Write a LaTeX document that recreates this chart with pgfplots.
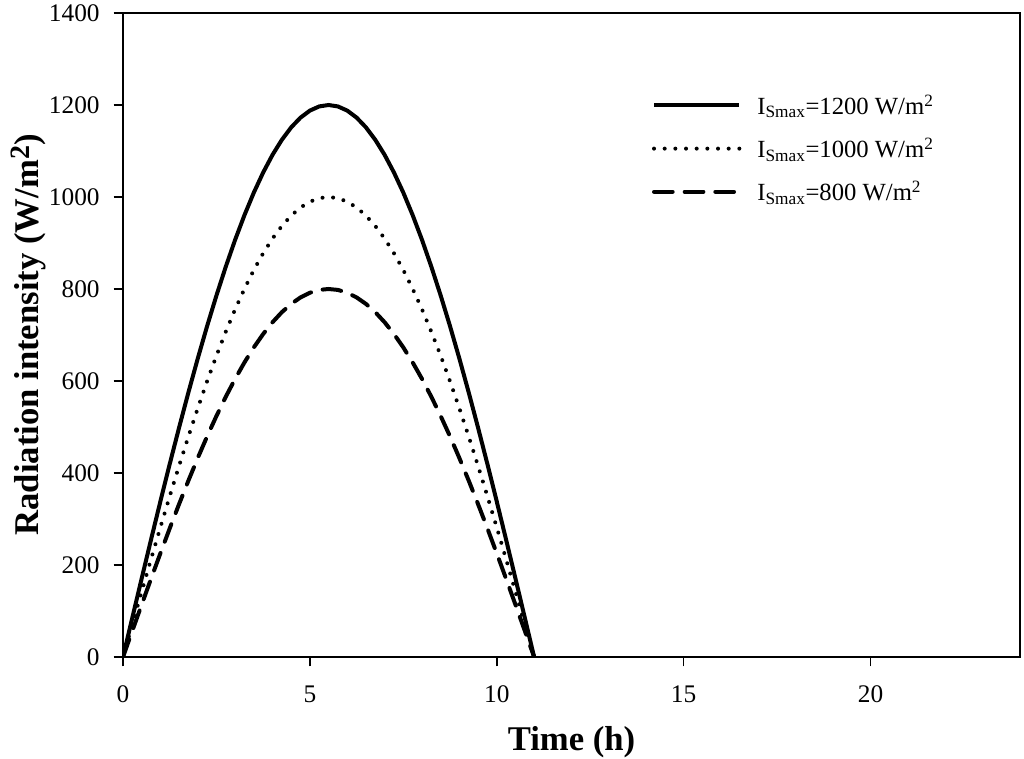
\documentclass[border=0pt]{standalone}
\usepackage{fontspec}
\setmainfont{Liberation Serif}
\usepackage{pgfplots}
\pgfplotsset{compat=1.18}
\begin{document}
\begin{tikzpicture}
\begin{axis}[
  at={(0,0)}, anchor=south west,
  scale only axis, width=672.75pt, height=483pt,
  xmin=0, xmax=24, ymin=0, ymax=1400,
  xtick={0,5,10,15,20}, ytick={0,200,...,1400},
  tick align=outside, tick pos=left, major tick length=7pt,
  axis line style={line width=1.2pt}, every tick/.style={line width=1.2pt, black},
  tick label style={font=\fontsize{19}{22}\selectfont},
  xticklabel style={yshift=-11pt},
  yticklabel style={xshift=-7pt},
  /pgf/number format/assume math mode=true,
  /pgf/number format/1000 sep={},
  xlabel={\textbf{Time (h)}},
  ylabel={\textbf{Radiation intensity (W/m\raisebox{0.62ex}{\fontsize{21}{21}\selectfont 2})}},
  label style={font=\fontsize{26}{30}\selectfont},
  xlabel style={yshift=-11pt},
  ylabel style={yshift=-5pt},
  legend style={draw=none, fill=none, at={(0.585,0.882)}, anchor=north west,
    font=\fontsize{18.5}{22}\selectfont, row sep=12pt},
  legend cell align=left,
  legend image code/.code={\draw[#1] (0pt,0pt) -- (64pt,0pt); \path (74pt,0pt);},
]
\addplot[black, line width=3pt] coordinates {
(0,0)(0.25,85.6)(0.5,170.8)(0.75,255.1)(1,338.1)(1.25,419.4)(1.5,498.5)(1.75,575.1)(2,648.8)(2.25,719.2)(2.5,785.8)(2.75,848.5)(3,906.9)(3.25,960.6)(3.5,1009.5)(3.75,1053.2)(4,1091.6)(4.25,1124.3)(4.5,1151.4)(4.75,1172.6)(5,1187.8)(5.25,1196.9)(5.5,1200)
(5.75,1196.9)(6,1187.8)(6.25,1172.6)(6.5,1151.4)(6.75,1124.3)(7,1091.6)(7.25,1053.2)(7.5,1009.5)(7.75,960.6)(8,906.9)(8.25,848.5)(8.5,785.8)(8.75,719.2)(9,648.8)(9.25,575.1)(9.5,498.5)(9.75,419.4)(10,338.1)(10.25,255.1)(10.5,170.8)(10.75,85.6)(11,0)};
\addlegendentry{I\textsubscript{Smax}=1200 W/m\textsuperscript{2}}
\addplot[black, line width=3pt, line cap=round, dash pattern=on 0pt off 8pt] coordinates {
(0,0)(0.25,71.3)(0.5,142.3)(0.75,212.6)(1,281.7)(1.25,349.5)(1.5,415.4)(1.75,479.3)(2,540.6)(2.25,599.4)(2.5,654.9)(2.75,707.1)(3,755.8)(3.25,800.5)(3.5,841.3)(3.75,877.7)(4,909.6)(4.25,937.0)(4.5,959.5)(4.75,977.2)(5,989.8)(5.25,997.5)(5.5,1000)
(5.75,997.5)(6,989.8)(6.25,977.2)(6.5,959.5)(6.75,937.0)(7,909.6)(7.25,877.7)(7.5,841.3)(7.75,800.5)(8,755.8)(8.25,707.1)(8.5,654.9)(8.75,599.4)(9,540.6)(9.25,479.3)(9.5,415.4)(9.75,349.5)(10,281.7)(10.25,212.6)(10.5,142.3)(10.75,71.3)(11,0)};
\addlegendentry{I\textsubscript{Smax}=1000 W/m\textsuperscript{2}}
\addplot[black, line width=3pt, line cap=round, dash pattern=on 14pt off 9pt] coordinates {
(0,0)(0.25,57.1)(0.5,113.8)(0.75,170.1)(1,225.4)(1.25,279.6)(1.5,332.3)(1.75,383.4)(2,432.5)(2.25,479.5)(2.5,523.9)(2.75,565.7)(3,604.6)(3.25,640.4)(3.5,673.0)(3.75,702.1)(4,727.7)(4.25,749.6)(4.5,767.6)(4.75,781.7)(5,791.9)(5.25,798.0)(5.5,800)
(5.75,798.0)(6,791.9)(6.25,781.7)(6.5,767.6)(6.75,749.6)(7,727.7)(7.25,702.1)(7.5,673.0)(7.75,640.4)(8,604.6)(8.25,565.7)(8.5,523.9)(8.75,479.5)(9,432.5)(9.25,383.4)(9.5,332.3)(9.75,279.6)(10,225.4)(10.25,170.1)(10.5,113.8)(10.75,57.1)(11,0)};
\addlegendentry{I\textsubscript{Smax}=800 W/m\textsuperscript{2}}
\end{axis}
\pgfresetboundingbox
\path[use as bounding box] (-92.25pt,-75.75pt) rectangle (675.75pt,492.75pt);
\end{tikzpicture}
\end{document}
